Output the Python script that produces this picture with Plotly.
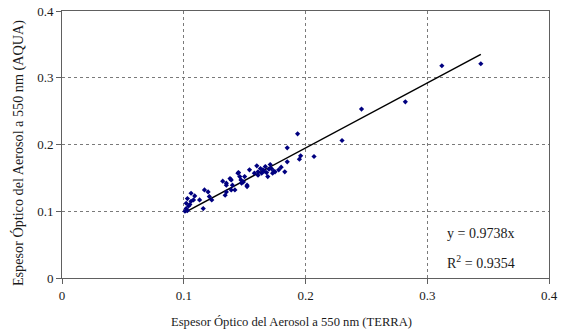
import plotly.graph_objects as go

terra = [0.101, 0.102, 0.103, 0.104, 0.102, 0.105, 0.106, 0.103, 0.106, 0.109,
         0.108, 0.113, 0.116, 0.117, 0.120, 0.121, 0.123, 0.132, 0.134, 0.135,
         0.135, 0.138, 0.140, 0.139, 0.135, 0.1445, 0.147, 0.150, 0.149, 0.152,
         0.146, 0.154, 0.158, 0.161, 0.163, 0.165, 0.167, 0.169, 0.172, 0.175,
         0.178, 0.164, 0.161, 0.166, 0.168, 0.170, 0.173, 0.174, 0.180, 0.183,
         0.185, 0.185, 0.1935, 0.195, 0.196, 0.207, 0.230, 0.246, 0.282, 0.312,
         0.344, 0.160, 0.171, 0.152, 0.1475, 0.142, 0.139, 0.145]
aqua = [0.100, 0.104, 0.101, 0.108, 0.112, 0.110, 0.115, 0.119, 0.127, 0.123,
        0.117, 0.117, 0.104, 0.132, 0.129, 0.122, 0.117, 0.145, 0.124, 0.129,
        0.139, 0.149, 0.139, 0.147, 0.142, 0.157, 0.147, 0.152, 0.144, 0.139,
        0.152, 0.162, 0.157, 0.154, 0.164, 0.162, 0.167, 0.152, 0.164, 0.159,
        0.162, 0.157, 0.159, 0.160, 0.158, 0.163, 0.157, 0.160, 0.166, 0.159,
        0.174, 0.195, 0.216, 0.178, 0.183, 0.182, 0.206, 0.253, 0.264, 0.318,
        0.321, 0.168, 0.170, 0.137, 0.142, 0.132, 0.132, 0.158]

slope = 0.9738
r2 = 0.9354
fit_x = [min(terra), max(terra)]
fit_y = [slope * v for v in fit_x]

ticks = [0, 0.1, 0.2, 0.3, 0.4]
tick_text = ["0", "0.1", "0.2", "0.3", "0.4"]

x_title = "Espesor Óptico del Aerosol a 550 nm (TERRA)"
y_title = "Espesor Óptico del Aerosol a 550 nm (AQUA)"

font_family = "Liberation Serif, Times New Roman, serif"

fig = go.Figure()
fig.add_trace(go.Scatter(x=fit_x, y=fit_y, mode="lines",
                         line=dict(color="black", width=1.5), hoverinfo="skip"))
fig.add_trace(go.Scatter(x=terra, y=aqua, mode="markers",
                         marker=dict(symbol="diamond", size=4, color="#000080",
                                     line=dict(width=0))))

axis_common = dict(
    range=[0, 0.4], tickvals=ticks, ticktext=tick_text,
    showgrid=True, gridcolor="#7a7a7a", griddash="dot", gridwidth=1,
    showline=True, linecolor="#606060", linewidth=1, mirror=True,
    ticks="outside", ticklen=5, tickcolor="#606060",
    zeroline=False, automargin=False,
    tickfont=dict(family=font_family, size=13, color="#1a1a1a"),
)

fig.update_layout(
    width=563, height=332,
    margin=dict(l=62, r=14, t=11, b=54),
    paper_bgcolor="white", plot_bgcolor="white",
    showlegend=False,
    font=dict(family=font_family, size=13, color="#1a1a1a"),
    xaxis=dict(**axis_common),
    yaxis=dict(**axis_common),
    annotations=[
        dict(x=0.472, y=-0.165, xref="paper", yref="paper", xanchor="center",
             yanchor="middle", text=x_title, showarrow=False,
             font=dict(family=font_family, size=12.6, color="#1a1a1a")),
        dict(x=-0.0903, y=0.468, xref="paper", yref="paper", xanchor="center",
             yanchor="middle", text=y_title, textangle=-90, showarrow=False,
             font=dict(family=font_family, size=14.2, color="#1a1a1a")),
        dict(x=0.3145, y=0.067, xref="x", yref="y", xanchor="left", yanchor="middle",
             text=f"y = {slope}x", showarrow=False,
             font=dict(family=font_family, size=14, color="#1a1a1a")),
        dict(x=0.3145, y=0.024, xref="x", yref="y", xanchor="left", yanchor="middle",
             text=f"R<sup>2</sup> = {r2}", showarrow=False,
             font=dict(family=font_family, size=14, color="#1a1a1a")),
    ],
)

fig.write_html("out.html")
